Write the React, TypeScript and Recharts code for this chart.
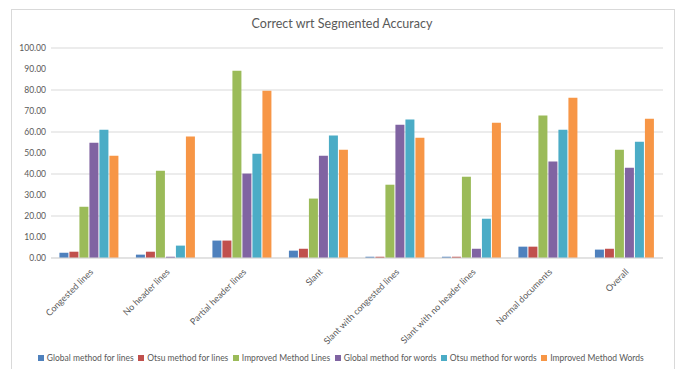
import { Bar, BarChart, CartesianGrid, Legend, XAxis, YAxis } from "recharts";

const categories = [
  "Congested lines",
  "No header lines",
  "Partial header lines",
  "Slant",
  "Slant with congested lines",
  "Slant with no header lines",
  "Normal documents",
  "Overall",
];

const globalLines = [2.5, 1.6, 8.3, 3.5, 0.6, 0.6, 5.4, 4.0];
const otsuLines = [3.0, 3.0, 8.3, 4.4, 0.6, 0.6, 5.4, 4.4];
const improvedLines = [24.4, 41.6, 89.2, 28.3, 34.9, 38.7, 67.8, 51.6];
const globalWords = [54.9, 0.6, 40.2, 48.7, 63.5, 4.4, 45.9, 43.0];
const otsuWords = [61.1, 5.9, 49.7, 58.3, 65.9, 18.7, 61.1, 55.4];
const improvedWords = [48.7, 57.8, 79.7, 51.6, 57.3, 64.4, 76.3, 66.3];

const yTicks = [0, 10, 20, 30, 40, 50, 60, 70, 80, 90, 100];

const series = [
  { key: "gl", name: "Global method for lines", color: "#4F81BD", values: globalLines },
  { key: "ol", name: "Otsu method for lines", color: "#C0504D", values: otsuLines },
  { key: "il", name: "Improved Method Lines", color: "#9BBB59", values: improvedLines },
  { key: "gw", name: "Global method for words", color: "#8064A2", values: globalWords },
  { key: "ow", name: "Otsu method for words", color: "#4BACC6", values: otsuWords },
  { key: "iw", name: "Improved Method Words", color: "#F79646", values: improvedWords },
];

const data = categories.map((name, i) => {
  const row: Record<string, string | number> = { name };
  series.forEach((s) => (row[s.key] = s.values[i]));
  return row;
});

const font = "Lato, 'Open Sans', sans-serif";
const textColor = "#595959";

// legend with tight Excel-like spacing, kept in series order
function LegendRow({ payload }: any) {
  const items = [...(payload || [])].sort(
    (a: any, b: any) =>
      series.findIndex((s) => s.key === a.dataKey) - series.findIndex((s) => s.key === b.dataKey)
  );
  return (
    <div
      style={{
        display: "flex",
        justifyContent: "center",
        alignItems: "center",
        fontSize: 8.5,
        fontFamily: font,
        color: textColor,
        whiteSpace: "nowrap",
      }}
    >
      {items.map((it: any) => (
        <span key={it.dataKey} style={{ display: "flex", alignItems: "center", marginRight: 4.5 }}>
          <span
            style={{ width: 6, height: 6, background: it.color, display: "inline-block", marginRight: 3 }}
          />
          {it.value}
        </span>
      ))}
    </div>
  );
}

export default function App() {
  return (
    <div
      style={{
        position: "absolute",
        left: 0,
        top: 0,
        width: 678,
        height: 369,
        overflow: "hidden",
        background: "#fff",
        fontFamily: font,
      }}
    >
      <div
        style={{
          position: "absolute",
          left: 11,
          top: 9,
          width: 662,
          height: 380,
          border: "1px solid #d9d9d9",
        }}
      />
      <div
        style={{
          position: "absolute",
          left: 0,
          top: 16,
          width: 684,
          textAlign: "center",
          fontSize: 12.5,
          color: textColor,
        }}
      >
        Correct wrt Segmented Accuracy
      </div>
      <div style={{ position: "absolute", left: 0, top: 0 }}>
        <BarChart
          width={678}
          height={369}
          data={data}
          margin={{ top: 48, right: 15, left: 6, bottom: 0 }}
          barCategoryGap="11%"
          barGap={1}
        >
          <CartesianGrid vertical={false} stroke="#d9d9d9" />
          <XAxis
            dataKey="name"
            interval={0}
            angle={-45}
            textAnchor="end"
            height={111}
            tickLine={false}
            axisLine={{ stroke: "#d9d9d9" }}
            tickMargin={4}
            tick={{ fontSize: 9, fill: textColor, fontFamily: font }}
          />
          <YAxis
            domain={[0, 100]}
            ticks={yTicks}
            width={45}
            tickLine={false}
            axisLine={false}
            tickSize={0}
            tickMargin={5}
            tickFormatter={(v: number) => v.toFixed(2)}
            tick={{ fontSize: 8.5, fill: textColor, fontFamily: font }}
          />
          <Legend
            layout="horizontal"
            verticalAlign="middle"
            align="center"
            wrapperStyle={{ top: 353, left: 4, width: 678 }}
            content={LegendRow}
          />
          {series.map((s) => (
            <Bar
              key={s.key}
              dataKey={s.key}
              name={s.name}
              fill={s.color}
              isAnimationActive={false}
            />
          ))}
        </BarChart>
      </div>
    </div>
  );
}
